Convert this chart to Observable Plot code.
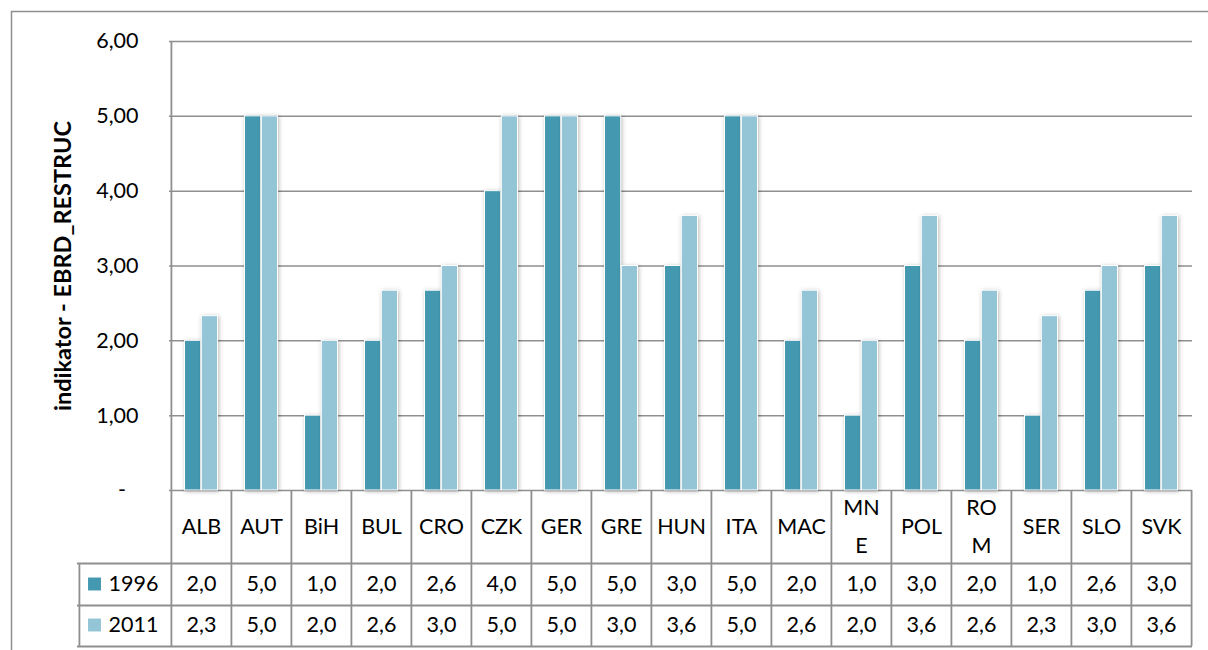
<!DOCTYPE html>
<html>
<head>
<meta charset="utf-8">
<script src="https://cdn.jsdelivr.net/npm/d3@7"></script>
<script src="https://cdn.jsdelivr.net/npm/@observablehq/plot@0.6"></script>
<style>
  html, body { margin: 0; padding: 0; background: #fff; overflow: hidden; }
  #chart svg { overflow: hidden; display: block; }
  g[aria-label="bar"] rect { filter: drop-shadow(1px 1px 2px rgba(0,0,0,0.28)); }
</style>
</head>
<body>
<div id="chart"></div>
<script>
const countries = ["ALB","AUT","BiH","BUL","CRO","CZK","GER","GRE","HUN","ITA","MAC","MNE","POL","ROM","SER","SLO","SVK"];
const countryLabels = ["ALB","AUT","BiH","BUL","CRO","CZK","GER","GRE","HUN","ITA","MAC","MN\nE","POL","RO\nM","SER","SLO","SVK"];
const years = ["1996","2011"];
const colors = ["#4499b1","#93c5d7"];
const v1996 = [2.00,5.00,1.00,2.00,2.67,4.00,5.00,5.00,3.00,5.00,2.00,1.00,3.00,2.00,1.00,2.67,3.00];
const v2011 = [2.33,5.00,2.00,2.67,3.00,5.00,5.00,3.00,3.67,5.00,2.67,2.00,3.67,2.67,2.33,3.00,3.67];
const yTicks = [0,1,2,3,4,5,6];
const yLabel = "indikator - EBRD_RESTRUC";

const W = 1208, H = 650, mL = 169, mR = 16, mT = 41, mB = 160;
const bw = (W - mL - mR) / countries.length;
const gray = "#8f8f8f";
const font = "Lato, 'Open Sans', sans-serif";
const fs = 21.5;

const series = [v1996, v2011];
const data = years.flatMap((yr, j) => countries.map((c, i) => ({country: c, year: yr, value: series[j][i]})));
const labelOf = new Map(countries.map((c, i) => [c, countryLabels[i]]));
const tableText = v => (Math.floor(v * 10 + 1e-9) / 10).toFixed(1).replace(".", ",");

const rowDy = [94, 135];       // centre of table value rows below the axis
const rowLines = [73, 115, 156];
const legendDx = -92;

const marks = [
  Plot.frame({stroke: gray, strokeWidth: 1.5, insetLeft: -(mL - 11), insetTop: -(mT - 11), insetRight: -(mR + 20), insetBottom: -(mB + 20)}),
  Plot.ruleY(yTicks, {y: d => d, stroke: gray, strokeWidth: 1.5}),
  // left axis line (continues into table)
  Plot.ruleX([countries[0]], {x: d => d, dx: -bw / 2, stroke: gray, strokeWidth: 1.8, insetBottom: -rowLines[2]}),
  // table vertical lines
  Plot.ruleX(countries.slice(1), {x: d => d, dx: -bw / 2, stroke: gray, strokeWidth: 1.8, insetTop: H - mB - mT, insetBottom: -rowLines[2]}),
  Plot.ruleX([countries[countries.length - 1]], {x: d => d, dx: bw / 2, stroke: gray, strokeWidth: 1.8, insetTop: H - mB - mT, insetBottom: -rowLines[2]}),
  Plot.ruleX([countries[0]], {x: d => d, dx: -bw / 2 + legendDx, stroke: gray, strokeWidth: 1.8, insetTop: H - mB - mT + rowLines[0], insetBottom: -rowLines[2]}),
  // table horizontal lines
  ...rowLines.map(dy => Plot.ruleY([0], {y: d => d, dy, stroke: gray, strokeWidth: 1.8, insetLeft: legendDx})),
  // bars
  ...years.map((yr, j) => Plot.barY(data.filter(d => d.year === yr), {
    x: "country", y: "value", fill: "year", stroke: "white", strokeWidth: 1,
    dx: j === 0 ? -8.4 : 8.4, insetLeft: 21.9, insetRight: 21.9
  })),
  // category labels
  Plot.text(countries, {x: d => d, text: d => labelOf.get(d), frameAnchor: "bottom", lineAnchor: "middle", dy: 31, fontSize: fs, fontFamily: font, lineHeight: 1.8, fill: "black"}),
  // values
  ...years.map((yr, j) => Plot.text(data.filter(d => d.year === yr), {
    x: "country", text: d => tableText(d.value), frameAnchor: "bottom", lineAnchor: "middle", dy: rowDy[j], fontSize: fs, fontFamily: font, fill: "black"
  })),
  // legend swatches and year labels
  ...years.map((yr, j) => Plot.dot([yr], {fill: d => d, symbol: "square", r: 7.3, frameAnchor: "bottom-left", dx: -75, dy: rowDy[j] - 0.5})),
  ...years.map((yr, j) => Plot.text([yr], {text: d => d, frameAnchor: "bottom-left", lineAnchor: "middle", dx: -61, dy: rowDy[j], textAnchor: "start", fontSize: fs, fontFamily: font, fill: "black"})),
  // y label
  Plot.text([yLabel], {text: d => d, frameAnchor: "left", textAnchor: "middle", lineAnchor: "middle", dx: -106, rotate: -90, fontSize: 23.5, fontWeight: "bold", fontFamily: font, fill: "black"})
];

const chart = Plot.plot({
  width: W, height: H,
  marginLeft: mL, marginRight: mR, marginTop: mT, marginBottom: mB,
  style: {fontFamily: font, fontSize: fs + "px", background: "white", color: "black"},
  x: {axis: null, domain: countries, padding: 0},
  y: {domain: [0, 6], ticks: yTicks, tickSize: 0, tickPadding: 31, label: null,
      tickFormat: d => d === 0 ? "-\u2007" : d.toFixed(2).replace(".", ",")},
  color: {domain: years, range: colors},
  marks
});
document.getElementById("chart").appendChild(chart);
</script>
</body>
</html>
